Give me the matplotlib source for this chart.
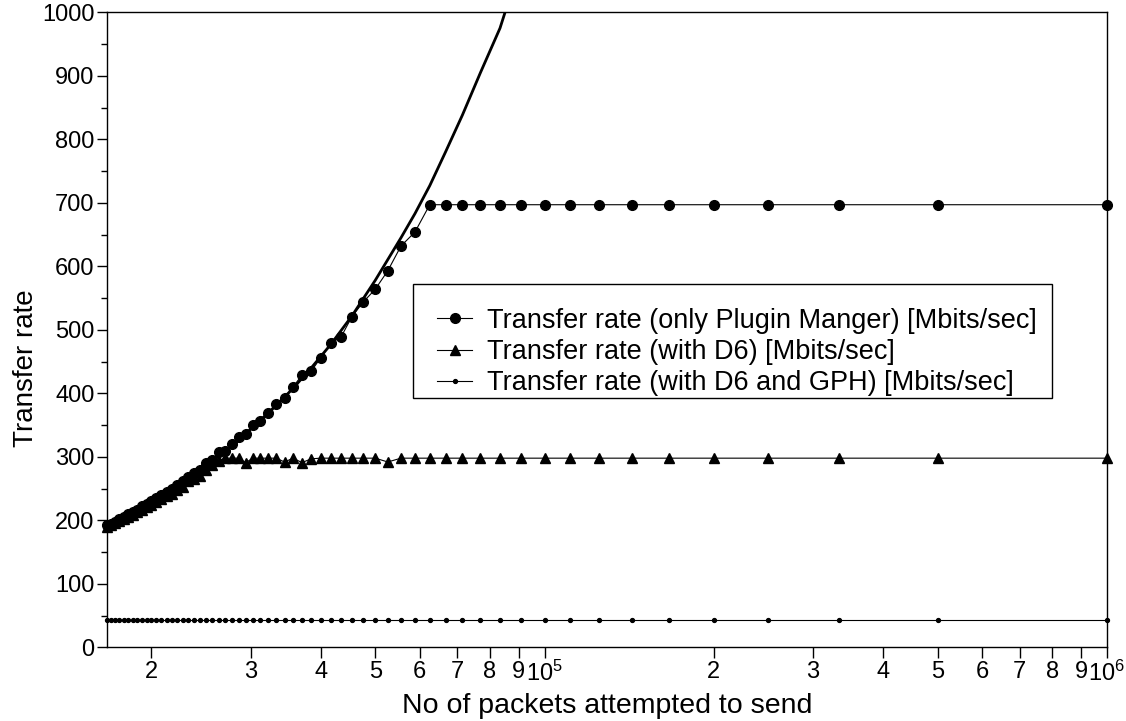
import matplotlib
matplotlib.use("Agg")
import matplotlib.pyplot as plt
from matplotlib.patches import Rectangle

plt.rcParams['font.family'] = ['Liberation Sans', 'DejaVu Sans']
plt.rcParams['mathtext.fontset'] = 'custom'
plt.rcParams['mathtext.rm'] = 'Liberation Sans'
plt.rcParams['mathtext.it'] = 'Liberation Sans'

# packets attempted to send (x), one point per run
packets = [16667, 16949, 17241, 17544, 17857, 18182, 18519, 18868, 19231, 19608,
           20000, 20408, 20833, 21277, 21739, 22222, 22727, 23256, 23810, 24390,
           25000, 25641, 26316, 27027, 27778, 28571, 29412, 30303, 31250, 32258,
           33333, 34483, 35714, 37037, 38462, 40000, 41667, 43478, 45455, 47619,
           50000, 52632, 55556, 58824, 62500, 66667, 71429, 76923, 83333, 90909,
           100000, 111111, 125000, 142857, 166667, 200000, 250000, 333333, 500000, 1000000]

# transfer rate, only plugin manager
pm_rate = [192, 195, 198, 202, 205, 210, 213, 217, 222, 226,
           230, 235, 240, 244, 250, 256, 262, 268, 275, 280,
           290, 295, 308, 309, 320, 331, 336, 350, 356, 369,
           383, 393, 410, 429, 435, 456, 479, 489, 521, 544,
           564, 593, 632, 654, 697, 697, 697, 697, 697, 697,
           697, 697, 697, 697, 697, 697, 697, 697, 697, 697]

# transfer rate with D6
d6_rate = [190, 193, 196, 199, 202, 206, 209, 213, 217, 221,
           225, 229, 233, 238, 242, 248, 253, 262, 265, 270,
           280, 287, 294, 298, 298, 298, 291, 298, 298, 298,
           298, 292, 298, 291, 297, 298, 298, 298, 298, 298,
           298, 292, 298, 298, 298, 298, 298, 298, 298, 298,
           298, 298, 298, 298, 298, 298, 298, 298, 298, 298]

# transfer rate with D6 and GPH (flat)
gph_rate = [44] * 60

# bold reference curve (no legend entry)
curve_packets = [16667, 18182, 20000, 22222, 25000, 28571, 33333, 35714, 38462, 41667,
                 45455, 50000, 55556, 58824, 62500, 66667, 71429, 76923, 83333, 90909]
curve_rate = [190, 207, 228, 253, 285, 326, 381, 408, 440, 477,
              522, 578, 645, 683, 727, 780, 838, 905, 975, 1080]

legend_labels = ["Transfer rate (only Plugin Manger) [Mbits/sec]",
                 "Transfer rate (with D6) [Mbits/sec]",
                 "Transfer rate (with D6 and GPH) [Mbits/sec]"]

x_major = [1e5, 1e6]
x_major_labels = ["$10^5$", "$10^6$"]
x_minor = [2e4, 3e4, 4e4, 5e4, 6e4, 7e4, 8e4, 9e4,
           2e5, 3e5, 4e5, 5e5, 6e5, 7e5, 8e5, 9e5]
x_minor_labels = ["2", "3", "4", "5", "6", "7", "8", "9",
                  "2", "3", "4", "5", "6", "7", "8", "9"]

fig = plt.figure(figsize=(11.26, 7.21), dpi=100)
ax = fig.add_axes([0.095, 0.102, 0.888, 0.881])

ax.plot(curve_packets, curve_rate, color='black', linewidth=2.0)
ax.plot(packets, pm_rate, color='black', linewidth=0.8, marker='o', markersize=7,
        label=legend_labels[0], clip_on=False)
ax.plot(packets, d6_rate, color='black', linewidth=0.8, marker='^', markersize=7,
        label=legend_labels[1], clip_on=False)
ax.plot(packets, gph_rate, color='black', linewidth=0.8, marker='o', markersize=2.8,
        label=legend_labels[2], clip_on=False)

ax.set_xscale('log')
ax.set_xlim(16667, 1e6)
ax.set_ylim(0, 1000)

ax.set_xticks(x_major, x_major_labels)
ax.set_xticks(x_minor, x_minor_labels, minor=True)
ax.set_yticks(range(0, 1001, 100))
ax.set_yticks(range(50, 1000, 100), minor=True)

ax.tick_params(axis='both', which='both', direction='out', labelsize=17, width=1)
ax.tick_params(axis='x', which='both', length=8, pad=1.5)
ax.tick_params(axis='y', which='major', length=7, pad=2)
ax.tick_params(axis='y', which='minor', length=4)

for s in ax.spines.values():
    s.set_linewidth(1)

ax.set_xlabel("No of packets attempted to send", fontsize=20.5, labelpad=5)
ax.set_ylabel("Transfer rate", fontsize=20)
ax.yaxis.set_label_coords(-0.068, 0.44)

# legend box drawn separately so the rows sit like in the original
ax.add_patch(Rectangle((0.306, 0.393), 0.639, 0.1794, transform=ax.transAxes,
                       fill=True, facecolor='white', edgecolor='black',
                       linewidth=1, zorder=4))
leg = ax.legend(loc='upper left', bbox_to_anchor=(0.330, 0.535), borderaxespad=0,
                fontsize=19.5, frameon=False, borderpad=0,
                handlelength=1.3, handletextpad=0.55, labelspacing=0.2)
leg.set_zorder(5)

fig.savefig("out.png", dpi=100)
